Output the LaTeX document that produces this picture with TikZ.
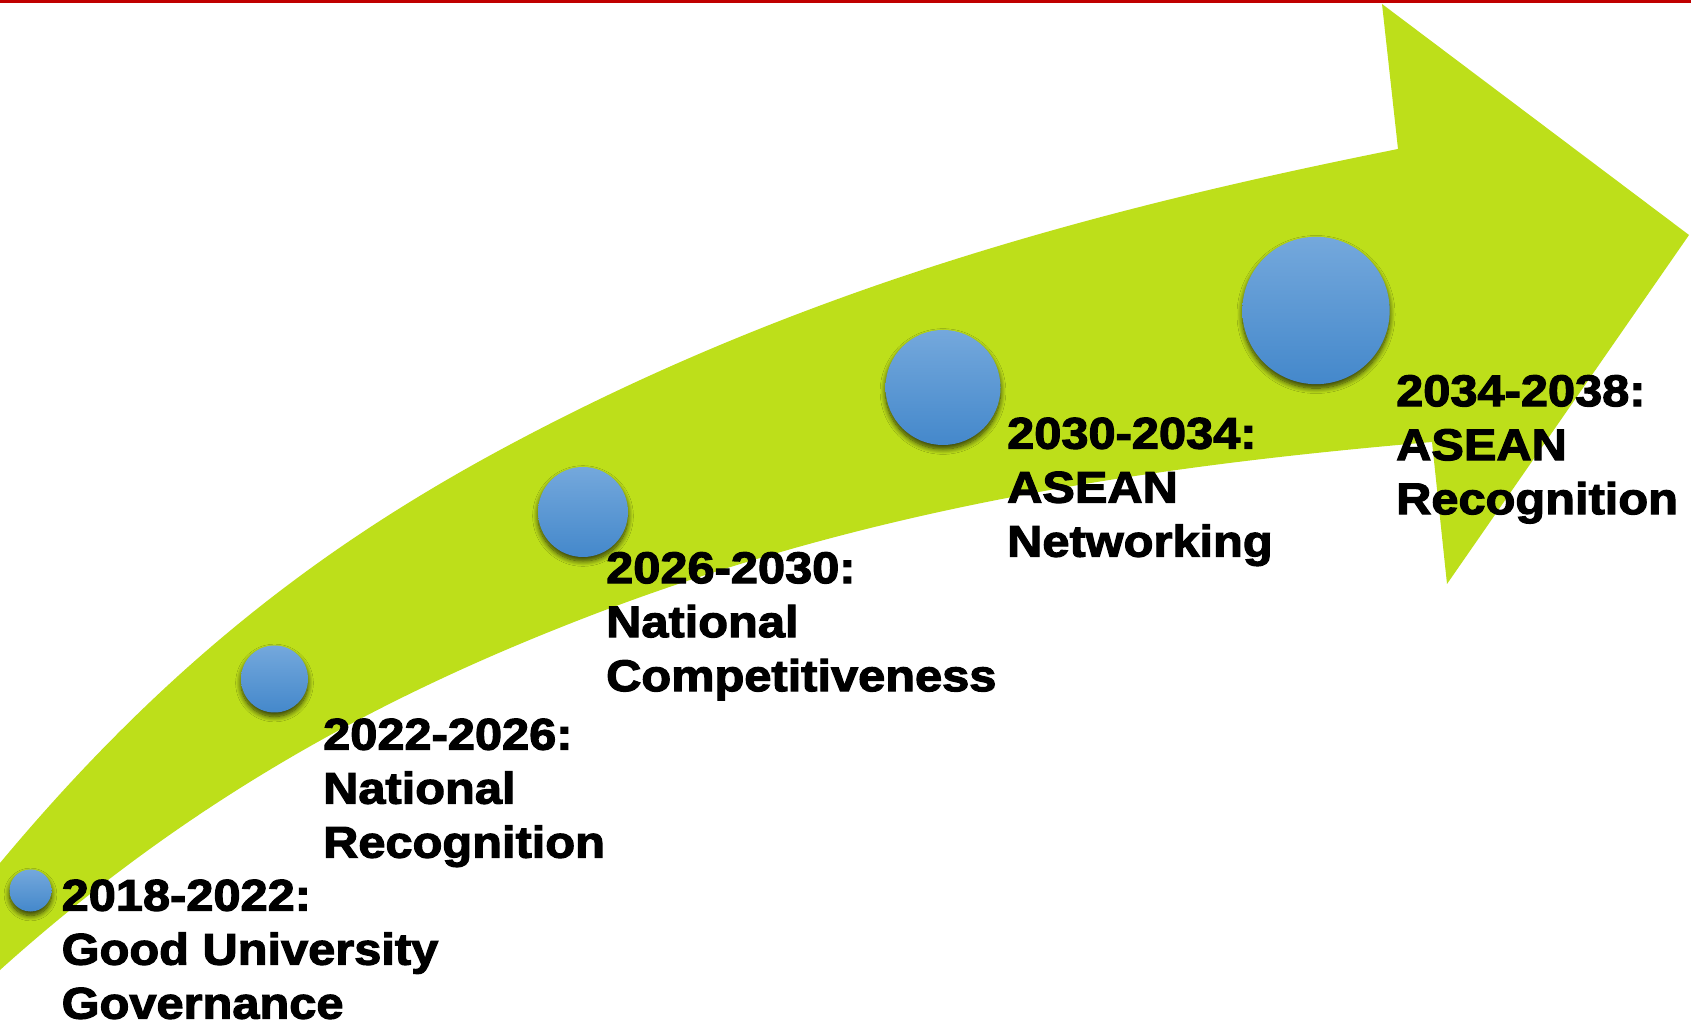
\documentclass[tikz,border=0pt]{standalone}
\usepackage{fontspec}
\newfontfamily\stagefont{Liberation Sans}[FakeStretch=1.1, BoldFeatures={FakeBold=2.6}]
\usetikzlibrary{shadows.blur}
\definecolor{arrowgreen}{RGB}{189,223,26}
\definecolor{dotblueA}{RGB}{116,168,220}
\definecolor{dotblueB}{RGB}{68,136,203}
\definecolor{topred}{RGB}{192,0,0}

\begin{document}
\begin{tikzpicture}[x=0.3pt, y=-0.3pt,
	dot/.style = {shape = circle,
				  inner sep = 0pt,
				  minimum size = #1,
				  top color = dotblueA,
				  bottom color = dotblueB,
				  blur shadow = {shadow xshift = 0pt,
				  				 shadow yshift = -1.2pt,
				  				 shadow blur radius = 1.6pt,
				  				 shadow blur steps = 10,
				  				 shadow opacity = 75}},
	stage/.style = {anchor = north west,
					inner sep = 0pt,
					align = left,
					font = \stagefont\bfseries\fontsize{13.3pt}{16.2pt}\selectfont}]

	\useasboundingbox (0,0) rectangle (1691,1026);
	\fill[topred] (0,0) rectangle (1691,3.5);

	% curved arrow
	\fill[arrowgreen] (0,970) .. controls (200,790) and (400,688) .. (600,612)
		.. controls (880,506) and (1152,466) .. (1432,442)
		-- (1447,584) -- (1689,235) -- (1382,4) -- (1398,149)
		.. controls (1098,209) and (800,288) .. (500,450)
		.. controls (330,542) and (170,659) .. (0,863) -- cycle;

	\draw (30.5,890.5) node[dot = 12.6pt](s1){};
	\draw (274.5,679) node[dot = 20.1pt](s2){};
	\draw (583,512) node[dot = 27pt](s3){};
	\draw (943,387.5) node[dot = 34.5pt](s4){};
	\draw (1316,310.5) node[dot = 44.2pt](s5){};

	\draw (61,879) node[stage](l1){2018-2022:\\Good University\\Governance};
	\draw (322.5,718) node[stage](l2){2022-2026:\\National\\Recognition};
	\draw (605.5,551.5) node[stage](l3){2026-2030:\\National\\Competitiveness};
	\draw (1006.5,417) node[stage](l4){2030-2034:\\ASEAN\\Networking};
	\draw (1395.5,374.5) node[stage](l5){2034-2038:\\ASEAN\\Recognition};

\end{tikzpicture}
\end{document}
